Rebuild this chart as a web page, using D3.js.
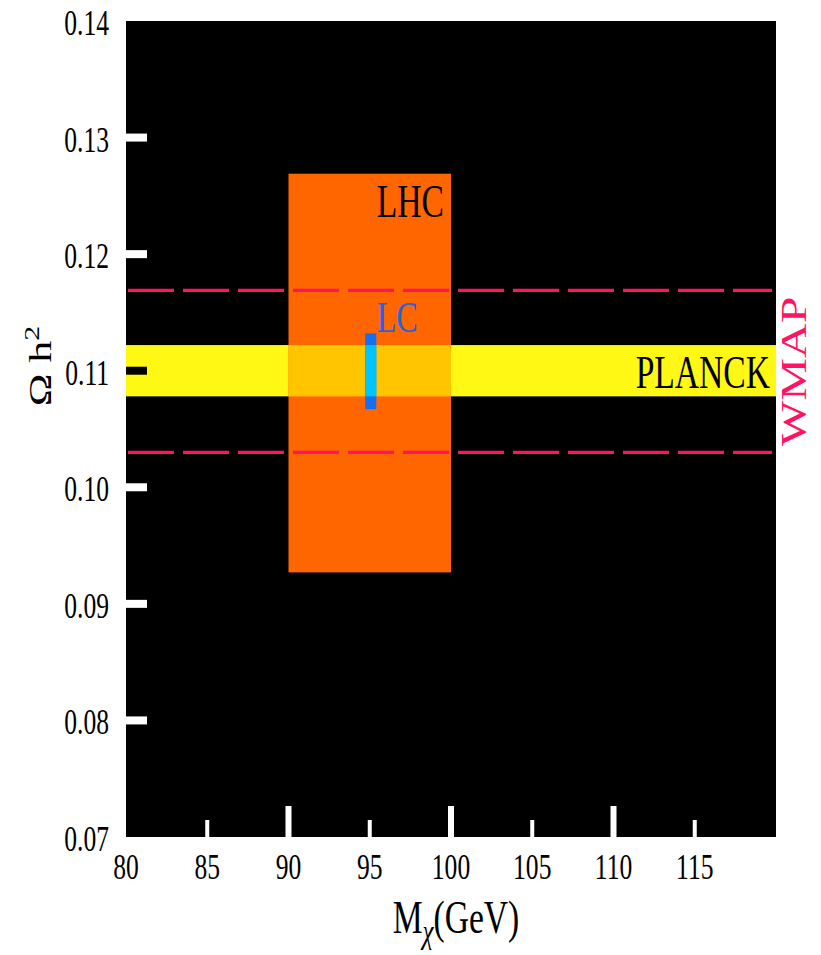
<!DOCTYPE html>
<html><head><meta charset="utf-8">
<script src="https://cdn.jsdelivr.net/npm/d3@7"></script>
<style>html,body{margin:0;padding:0;background:#fff;}svg{display:block;}
text{font-family:"Liberation Serif","Times New Roman","DejaVu Serif",serif;}</style>
</head><body>
<svg id="c" width="821" height="955"></svg>
<script>
// ---- data ----
const xDomain = [80, 120];
const yDomain = [0.07, 0.14];
const xTickValues = [80, 85, 90, 95, 100, 105, 110, 115];
const xMajorTicks = [90, 100, 110];
const xMinorTicks = [85, 95, 105, 115];
const yTickValues = [0.07, 0.08, 0.09, 0.10, 0.11, 0.12, 0.13, 0.14];
const yTickMarks = [0.08, 0.09, 0.10, 0.11, 0.12, 0.13];
const lhcBox = {x0: 90, x1: 100, y0: 0.0927, y1: 0.1269};
const planckBand = {y0: 0.1078, y1: 0.1122};
const wmapLines = [0.1030, 0.1169];
const lcBar = {x: 95, y0: 0.1067, y1: 0.1132};

const svg = d3.select("#c");
const x = d3.scaleLinear().domain(xDomain).range([126, 776]);
const y = d3.scaleLinear().domain(yDomain).range([837, 21]);
const SX = 0.73;

svg.append("rect").attr("width", 821).attr("height", 955).attr("fill", "#fff");
// plot background
svg.append("rect").attr("x", x(80)).attr("y", y(0.14))
  .attr("width", x(120) - x(80)).attr("height", y(0.07) - y(0.14))
  .attr("fill", "#000");

// PLANCK band
svg.append("rect").attr("x", x(80)).attr("y", y(planckBand.y1))
  .attr("width", x(120) - x(80)).attr("height", y(planckBand.y0) - y(planckBand.y1))
  .attr("fill", "#fff814");
// LHC box
svg.append("rect").attr("x", x(lhcBox.x0)).attr("y", y(lhcBox.y1))
  .attr("width", x(lhcBox.x1) - x(lhcBox.x0)).attr("height", y(lhcBox.y0) - y(lhcBox.y1))
  .attr("fill", "#ff6600");
// overlap
const oy0 = Math.max(lhcBox.y0, planckBand.y0), oy1 = Math.min(lhcBox.y1, planckBand.y1);
svg.append("rect").attr("x", x(lhcBox.x0)).attr("y", y(oy1))
  .attr("width", x(lhcBox.x1) - x(lhcBox.x0)).attr("height", y(oy0) - y(oy1))
  .attr("fill", "#ffc600");

// WMAP dashed lines
svg.selectAll("line.wmap").data(wmapLines).join("line").attr("class", "wmap")
  .attr("x1", x(80) + 2).attr("x2", x(120) - 4)
  .attr("y1", d => y(d)).attr("y2", d => y(d))
  .attr("stroke", "#ff1464").attr("stroke-width", 3.3)
  .attr("stroke-dasharray", "46,9");

// LC bar
const bw = 11;
svg.append("rect").attr("x", x(lcBar.x) - bw / 2 + 1).attr("y", y(lcBar.y1))
  .attr("width", bw).attr("height", y(lcBar.y0) - y(lcBar.y1)).attr("fill", "#1470f0");
const ly0 = Math.max(lcBar.y0, planckBand.y0), ly1 = Math.min(lcBar.y1, planckBand.y1);
svg.append("rect").attr("x", x(lcBar.x) - bw / 2 + 1).attr("y", y(ly1))
  .attr("width", bw).attr("height", y(ly0) - y(ly1)).attr("fill", "#00c4ff");

// ticks
const inBand = v => v >= planckBand.y0 && v <= planckBand.y1;
svg.selectAll("rect.yt").data(yTickMarks).join("rect").attr("class", "yt")
  .attr("x", x(80)).attr("y", d => y(d) - 4).attr("width", 21).attr("height", 8)
  .attr("fill", d => inBand(d) ? "#000" : "#fff");
svg.selectAll("rect.xtM").data(xMajorTicks).join("rect").attr("class", "xtM")
  .attr("x", d => x(d) - 3).attr("y", y(0.07) - 31).attr("width", 6).attr("height", 31)
  .attr("fill", "#fff");
svg.selectAll("rect.xtm").data(xMinorTicks).join("rect").attr("class", "xtm")
  .attr("x", d => x(d) - 2).attr("y", y(0.07) - 17).attr("width", 4).attr("height", 17)
  .attr("fill", "#fff");

// tick labels
svg.selectAll("text.xl").data(xTickValues).join("text").attr("class", "xl")
  .attr("transform", d => `translate(${x(d)},879) scale(${SX},1)`)
  .attr("text-anchor", "middle").attr("font-size", 35)
  .attr("fill", "#000").text(d => d);
svg.selectAll("text.yl").data(yTickValues).join("text").attr("class", "yl")
  .attr("transform", d => `translate(109,${y(d) + 14}) scale(${SX},1)`)
  .attr("text-anchor", "end").attr("font-size", 35)
  .attr("fill", "#000").text(d => d.toFixed(2));

// annotations
function label(txt, tx, ty, size, color, anchor) {
  svg.append("text").attr("transform", `translate(${tx},${ty}) scale(${SX},1)`)
    .attr("text-anchor", anchor || "start")
    .attr("font-size", size).attr("fill", color).text(txt);
}
label("LHC", x(lhcBox.x1) - 7, y(lhcBox.y1) + 43, 46, "#000", "end");
label("LC", x(lcBar.x) + 7, y(lcBar.y1) - 1, 44, "#2864dc", "start");
label("PLANCK", x(120) - 6, y(planckBand.y0) - 8, 46, "#000", "end");

// WMAP rotated
svg.append("text").attr("transform", `translate(806,${(y(wmapLines[0]) + y(wmapLines[1])) / 2}) rotate(-90) scale(1,${SX})`)
  .attr("text-anchor", "middle").attr("font-size", 48)
  .attr("fill", "#ff1464").text("WMAP");

// y-axis title
const yt = svg.append("text").attr("transform", `translate(51,366) rotate(-90) scale(1,${SX})`)
  .attr("text-anchor", "middle").attr("font-size", 44).attr("fill", "#000");
yt.append("tspan").text("Ω h");
yt.append("tspan").attr("dy", -16).attr("font-size", 30).text("2");

// x-axis title
const xt = svg.append("text").attr("transform", `translate(456,933) scale(${SX},1)`)
  .attr("text-anchor", "middle").attr("font-size", 46).attr("fill", "#000");
xt.append("tspan").text("M");
xt.append("tspan").attr("dy", 10).attr("font-size", 34).attr("font-style", "italic").text("χ");
xt.append("tspan").attr("dy", -10).text("(GeV)");
</script>
</body></html>
